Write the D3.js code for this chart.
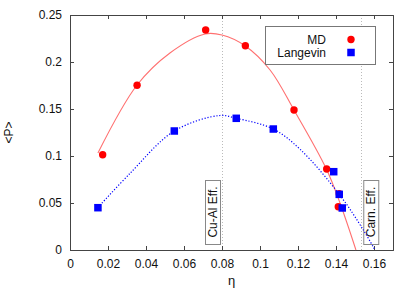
<!DOCTYPE html>
<html><head><meta charset="utf-8">
<script src="https://cdn.jsdelivr.net/npm/d3@7"></script>
<style>body{margin:0;background:#fff}svg{display:block}text{font-family:"Liberation Sans",Arial,sans-serif}</style>
</head><body><svg id="c" width="415" height="291"></svg>
<script>
// data
const mdEta = [0.0172, 0.0353, 0.0714, 0.0923, 0.1179, 0.1351, 0.1417, 0.1412];
const mdP   = [0.1014, 0.1752, 0.2340, 0.2173, 0.1489, 0.0862, 0.0599, 0.0460];
const lgEta = [0.0147, 0.0549, 0.0875, 0.1070, 0.1388, 0.1417, 0.1433];
const lgP   = [0.0450, 0.1266, 0.1401, 0.1287, 0.0833, 0.0592, 0.0447];
// fit curves
const mdFitEta = [0.0147, 0.0353, 0.0526, 0.0711, 0.0800, 0.0921, 0.1053, 0.1179, 0.1347, 0.1421, 0.1505];
const mdFitP   = [0.1032, 0.1755, 0.2096, 0.2298, 0.2287, 0.2173, 0.1915, 0.1489, 0.0872, 0.0500, 0.0];
const lgFitEta = [0.0147, 0.0316, 0.0549, 0.0789, 0.0875, 0.1070, 0.1211, 0.1417, 0.1544, 0.1605];
const lgFitP   = [0.0452, 0.0816, 0.1266, 0.1431, 0.1401, 0.1287, 0.1071, 0.0593, 0.0213, 0.0];
const xTicks = [0, 0.02, 0.04, 0.06, 0.08, 0.1, 0.12, 0.14, 0.16];
const yTicks = [0, 0.05, 0.1, 0.15, 0.2, 0.25];
const vLines = [{x: 0.08, label: "Cu-Al Eff.", side: "left"}, {x: 0.1533, label: "Carn. Eff.", side: "right"}];
const seriesNames = ["MD", "Langevin"];

const svg = d3.select("#c");
const L = 70, R = 393, T = 15, B = 250;
const x = d3.scaleLinear().domain([0, 0.17]).range([L, R]);
const y = d3.scaleLinear().domain([0, 0.25]).range([B, T]);
const fmt = d => d === 0 ? "0" : String(+d.toFixed(2));

// vertical dotted lines
vLines.forEach(v => {
  svg.append("line").attr("x1", Math.round(x(v.x)) + 0.5).attr("x2", Math.round(x(v.x)) + 0.5)
    .attr("y1", T).attr("y2", B).attr("stroke", "#bbb").attr("stroke-width", 1).attr("stroke-dasharray", "1,2");
});

// axes
const gB = svg.append("g").attr("transform", `translate(0,${B})`)
  .call(d3.axisBottom(x).tickValues(xTicks).tickSize(-4).tickPadding(9).tickFormat(fmt));
const gT = svg.append("g").attr("transform", `translate(0,${T})`)
  .call(d3.axisTop(x).tickValues(xTicks).tickSize(-4).tickFormat(""));
const gL = svg.append("g").attr("transform", `translate(${L},0)`)
  .call(d3.axisLeft(y).tickValues(yTicks).tickSize(-4).tickPadding(8).tickFormat(fmt));
const gR = svg.append("g").attr("transform", `translate(${R},0)`)
  .call(d3.axisRight(y).tickValues(yTicks).tickSize(-4).tickFormat(""));
[gB, gT, gL, gR].forEach(g => {
  g.select(".domain").attr("stroke", "#444");
  g.selectAll(".tick line").attr("stroke", "#444");
  g.selectAll("text").attr("font-size", 12).attr("fill", "#111").style("font-family", '"Liberation Sans",Arial,sans-serif');
});

// label boxes
vLines.forEach(v => {
  const lx = x(v.x);
  const bw = 15, bh = 64;
  const bx = v.side === "left" ? lx - 2 - bw : lx + 2;
  const by = B - 6 - bh;
  svg.append("rect").attr("x", bx + 0.5).attr("y", by + 0.5).attr("width", bw).attr("height", bh)
    .attr("fill", "#fff").attr("stroke", "#888");
  svg.append("text").attr("transform", `translate(${bx + bw / 2 + 4.5},${by + bh / 2}) rotate(-90)`)
    .attr("text-anchor", "middle").attr("font-size", 12).attr("fill", "#111").text(v.label);
});

// fit curves
const line = d3.line().x(d => x(d[0])).y(d => y(d[1])).curve(d3.curveCatmullRom);
svg.append("path").datum(mdFitEta.map((e, i) => [e, mdFitP[i]])).attr("d", line)
  .attr("fill", "none").attr("stroke", "#ff7070").attr("stroke-width", 1.1);
svg.append("path").datum(lgFitEta.map((e, i) => [e, lgFitP[i]])).attr("d", line)
  .attr("fill", "none").attr("stroke", "#0000ff").attr("stroke-width", 1.2).attr("stroke-dasharray", "1.2,1.8");

// points
svg.selectAll(".md").data(mdEta.map((e, i) => [e, mdP[i]])).enter().append("circle")
  .attr("cx", d => x(d[0])).attr("cy", d => y(d[1])).attr("r", 3.7).attr("fill", "#ff0000");
const s = 7.5;
svg.selectAll(".lg").data(lgEta.map((e, i) => [e, lgP[i]])).enter().append("rect")
  .attr("x", d => x(d[0]) - s / 2).attr("y", d => y(d[1]) - s / 2).attr("width", s).attr("height", s).attr("fill", "#0000ff");

// legend
svg.append("rect").attr("x", 265.5).attr("y", 26.5).attr("width", 110).attr("height", 38)
  .attr("fill", "#fff").attr("stroke", "#777");
svg.append("text").attr("x", 326).attr("y", 44).attr("text-anchor", "end").attr("font-size", 12).attr("fill", "#111").text(seriesNames[0]);
svg.append("text").attr("x", 326).attr("y", 57).attr("text-anchor", "end").attr("font-size", 12).attr("fill", "#111").text(seriesNames[1]);
svg.append("circle").attr("cx", 351).attr("cy", 39.5).attr("r", 3.7).attr("fill", "#ff0000");
svg.append("rect").attr("x", 351 - s / 2).attr("y", 52.5 - s / 2).attr("width", s).attr("height", s).attr("fill", "#0000ff");

// axis titles
svg.append("text").attr("x", (L + R) / 2).attr("y", 285).attr("text-anchor", "middle").attr("font-size", 13).attr("fill", "#111").text("η");
svg.append("text").attr("transform", `translate(13,${(T + B) / 2}) rotate(-90)`).attr("text-anchor", "middle").attr("font-size", 12).attr("fill", "#111").text("<P>");
</script></body></html>
